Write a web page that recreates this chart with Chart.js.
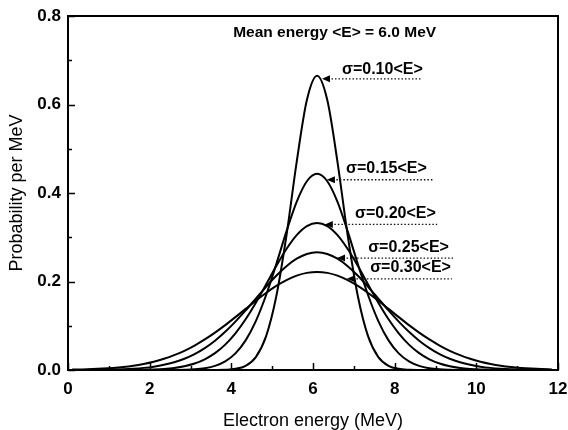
<!DOCTYPE html>
<html><head><meta charset="utf-8">
<script src="https://cdn.jsdelivr.net/npm/chart.js@4"></script>
<style>html,body{margin:0;padding:0;background:#fff}</style>
</head><body>
<canvas id="c" width="568" height="430" style="width:568px;height:430px;display:block"></canvas>
<script>
// ---- data ----
const energy = [0.1,0.35,0.6,0.85,1.1,1.35,1.6,1.85,2.1,2.35,2.6,2.85,3.1,3.35,3.6,3.85,4.1,4.35,4.6,4.85,5.1,5.35,5.6,5.85,
  6.1,6.35,6.6,6.85,7.1,7.35,7.6,7.85,8.1,8.35,8.6,8.85,9.1,9.35,9.6,9.85,10.1,10.35,10.6,10.85,11.1,11.35,11.6,11.85];
const seriesLabels = ['σ=0.10<E>','σ=0.15<E>','σ=0.20<E>','σ=0.25<E>','σ=0.30<E>'];
const sigma010 = [0,0,0,0,0,0,0,0,0,0,0,0,0,0,0.0001,0.0006,0.0026,0.0095,0.0292,0.0759,0.166,0.304,0.470,0.610,
  0.665,0.610,0.470,0.304,0.166,0.0759,0.0292,0.0095,0.0026,0.0006,0.0001,0,0,0,0,0,0,0,0,0,0,0,0,0];
const sigma015 = [0,0,0,0,0,0,0,0,0,0.0001,0.0002,0.0007,0.0017,0.0042,0.0094,0.0195,0.0375,0.0669,0.1106,0.1690,0.2391,0.3132,0.3799,0.4265,
  0.4433,0.4265,0.3799,0.3132,0.2391,0.1690,0.1106,0.0669,0.0375,0.0195,0.0094,0.0042,0.0017,0.0007,0.0002,0.0001,0,0,0,0,0,0,0,0];
const sigma020 = [0,0,0,0,0,0.0001,0.0003,0.0006,0.0013,0.0025,0.0047,0.0085,0.0146,0.0241,0.0380,0.0573,0.0829,0.1148,0.1522,0.1932,0.2349,0.2734,0.3048,0.3253,
  0.3324,0.3253,0.3048,0.2734,0.2349,0.1932,0.1522,0.1148,0.0829,0.0573,0.0380,0.0241,0.0146,0.0085,0.0047,0.0025,0.0013,0.0006,0.0003,0.0001,0,0,0,0];
const sigma025 = [0.0001,0.0002,0.0003,0.0006,0.0010,0.0018,0.0030,0.0048,0.0076,0.0117,0.0175,0.0254,0.0360,0.0496,0.0663,0.0864,0.1094,0.1347,0.1613,0.1880,0.2130,0.2347,0.2516,0.2623,
  0.2660,0.2623,0.2516,0.2347,0.2130,0.1880,0.1613,0.1347,0.1094,0.0864,0.0663,0.0496,0.0360,0.0254,0.0175,0.0117,0.0076,0.0048,0.0030,0.0018,0.0010,0.0006,0.0003,0.0002];
const sigma030 = [0.0009,0.0013,0.0021,0.0032,0.0047,0.0068,0.0097,0.0137,0.0188,0.0253,0.0335,0.0434,0.0553,0.0690,0.0845,0.1014,0.1195,0.1381,0.1566,0.1741,0.1899,0.2032,0.2132,0.2195,
  0.2216,0.2195,0.2132,0.2032,0.1899,0.1741,0.1566,0.1381,0.1195,0.1014,0.0845,0.0690,0.0553,0.0434,0.0335,0.0253,0.0188,0.0137,0.0097,0.0068,0.0047,0.0032,0.0021,0.0013];
const xTickValues = [0,2,4,6,8,10,12];
const yTickValues = [0.0,0.2,0.4,0.6,0.8];
const chartTitle = 'Mean energy <E> = 6.0 MeV';
const xTitle = 'Electron energy (MeV)';
const yTitle = 'Probability per MeV';

// ---- annotation anchors (data units) ----
const annot = {
  tipX:  [6.22, 6.34, 6.29, 6.59, 6.83],
  tipY:  [0.658, 0.430, 0.329, 0.253, 0.206],
  endX:  [8.67, 8.94, 9.04, 9.43, 9.40],
  textX: [6.71, 6.81, 7.03, 7.35, 7.40],
  textY: [0.680, 0.456, 0.353, 0.276, 0.232]
};
const titleAnchor = {x: 6.53, y: 0.762};

const allSeries = [sigma010, sigma015, sigma020, sigma025, sigma030];
const FONT = '"Liberation Sans", Arial, sans-serif';

const decor = {
  id: 'decor',
  afterDatasetsDraw(chart) {
    const ctx = chart.ctx, a = chart.chartArea;
    const xs = chart.scales.x, ys = chart.scales.y;
    ctx.save();
    ctx.strokeStyle = '#000'; ctx.lineWidth = 2;
    ctx.strokeRect(a.left, a.top, a.right - a.left, a.bottom - a.top);
    ctx.lineWidth = 1.5;
    for (let v = 0; v <= 12; v += 1) {
      const px = Math.round(xs.getPixelForValue(v)) + 0.5;
      const len = (v % 2 === 0) ? 7 : 4;
      ctx.beginPath(); ctx.moveTo(px, a.bottom); ctx.lineTo(px, a.bottom - len); ctx.stroke();
    }
    for (let k = 0; k <= 8; k++) {
      const py = Math.round(ys.getPixelForValue(k / 10)) + 0.5;
      const len = (k % 2 === 0) ? 7 : 4;
      ctx.beginPath(); ctx.moveTo(a.left, py); ctx.lineTo(a.left + len, py); ctx.stroke();
    }
    ctx.fillStyle = '#000';
    ctx.font = 'bold 15.5px ' + FONT;
    ctx.textAlign = 'center'; ctx.textBaseline = 'middle';
    ctx.fillText(chartTitle, xs.getPixelForValue(titleAnchor.x), ys.getPixelForValue(titleAnchor.y));
    for (let i = 0; i < seriesLabels.length; i++) {
      const tx = xs.getPixelForValue(annot.tipX[i]), ty = ys.getPixelForValue(annot.tipY[i]);
      const ex = xs.getPixelForValue(annot.endX[i]);
      ctx.setLineDash([1.5, 2]); ctx.lineWidth = 1.3; ctx.strokeStyle = '#111';
      ctx.beginPath(); ctx.moveTo(tx + 6, ty); ctx.lineTo(ex, ty); ctx.stroke();
      ctx.setLineDash([]);
      ctx.beginPath(); ctx.moveTo(tx, ty); ctx.lineTo(tx + 8, ty - 3.5); ctx.lineTo(tx + 8, ty + 3.5); ctx.closePath(); ctx.fill();
      ctx.font = 'bold 16px ' + FONT;
      ctx.textAlign = 'left'; ctx.textBaseline = 'middle';
      ctx.fillText(seriesLabels[i], xs.getPixelForValue(annot.textX[i]), ys.getPixelForValue(annot.textY[i]));
    }
    ctx.restore();
  }
};

new Chart(document.getElementById('c'), {
  type: 'line',
  data: {
    datasets: allSeries.map((s, i) => ({
      label: seriesLabels[i],
      data: energy.map((x, j) => ({x: x, y: s[j]})),
      borderColor: '#000', borderWidth: 2, pointRadius: 0,
      cubicInterpolationMode: 'monotone', fill: false
    }))
  },
  options: {
    responsive: false, animation: false, devicePixelRatio: 1,
    layout: {padding: {top: 16, right: 10, left: 0, bottom: 0}},
    plugins: {legend: {display: false}, tooltip: {enabled: false}, title: {display: false}},
    scales: {
      x: {
        type: 'linear', min: 0, max: 12,
        afterBuildTicks: s => { s.ticks = xTickValues.map(v => ({value: v})); },
        afterFit: s => { s.height = 60; s.paddingRight = 0; s.paddingLeft = 0; },
        grid: {display: false, drawTicks: false},
        border: {display: false},
        ticks: {color: '#000', font: {family: FONT, size: 17, weight: 'bold'}, padding: 9, maxRotation: 0,
          callback: v => String(v)},
        title: {display: true, text: xTitle, color: '#000', font: {family: FONT, size: 18, lineHeight: 1}, padding: {top: 0, bottom: 0}}
      },
      y: {
        min: 0, max: 0.8,
        afterBuildTicks: s => { s.ticks = yTickValues.map(v => ({value: v})); },
        afterFit: s => { s.width = 68; s.paddingTop = 0; s.paddingBottom = 0; },
        grid: {display: false, drawTicks: false},
        border: {display: false},
        ticks: {color: '#000', font: {family: FONT, size: 17, weight: 'bold'}, padding: 7,
          callback: v => Number(v).toFixed(1)},
        title: {display: true, text: yTitle, color: '#000', font: {family: FONT, size: 18}, padding: {top: 6, bottom: 0}}
      }
    }
  },
  plugins: [decor]
});
</script>
</body></html>
